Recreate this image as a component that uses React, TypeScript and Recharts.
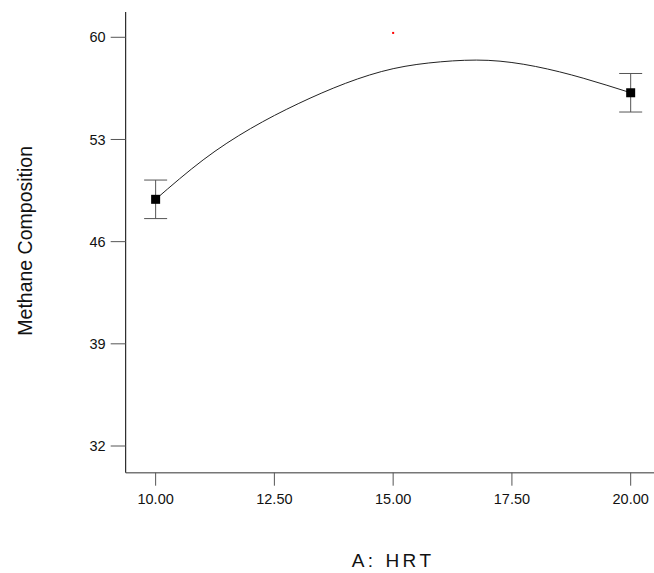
import { ComposedChart, ErrorBar, Label, Line, Scatter, XAxis, YAxis } from "recharts";

// A: HRT axis
const hrtTicks = [10, 12.5, 15, 17.5, 20];
// Methane Composition axis
const methaneTicks = [32, 39, 46, 53, 60];

// design points with error bars
const pointHrt = [10, 20];
const pointMethane = [48.9, 56.2];
const pointError = [1.32, 1.32];

// model curve
const curveHrt = [10, 11, 12, 13, 14, 15, 16, 17, 18, 19, 20];
const curveMethane = [48.9, 51.6, 53.75, 55.45, 56.85, 57.85, 58.32, 58.42, 58.0, 57.2, 56.2];

// small red center marker
const centerHrt = [15];
const centerMethane = [60.3];

const points = pointHrt.map((x, i) => ({ x, y: pointMethane[i], err: pointError[i] }));
const curve = curveHrt.map((x, i) => ({ x, y: curveMethane[i] }));
const center = centerHrt.map((x, i) => ({ x, y: centerMethane[i] }));

const font = "'Liberation Sans', Arial, sans-serif";
const tickStyle = { fill: "#111", fontSize: 14.5, fontFamily: font };

export default function App() {
  return (
    <div style={{ position: "fixed", left: 0, top: 0, width: 654, height: 573, overflow: "hidden", background: "#fff" }}>
      <ComposedChart width={700} height={573} margin={{ top: 12, right: 39.4, bottom: 0.3, left: 45.7 }}>
        <XAxis
          type="number"
          dataKey="x"
          domain={[9.37, 20.63]}
          ticks={hrtTicks}
          allowDataOverflow
          tickFormatter={(v) => Number(v).toFixed(2)}
          height={100}
          tickSize={13}
          tickMargin={7.6}
          tick={tickStyle}
          tickLine={{ stroke: "#555" }}
          axisLine={{ stroke: "#777", strokeWidth: 1.5 }}
        >
          <Label
            value="A: HRT"
            position="center"
            dy={37.3}
            style={{ fontSize: 19, letterSpacing: 3.5, fontFamily: font, fill: "#111" }}
          />
        </XAxis>
        <XAxis
          xAxisId="top"
          orientation="top"
          type="number"
          domain={[9.37, 20.63]}
          height={0}
          tick={false}
          tickLine={false}
          axisLine={{ stroke: "#444" }}
        />
        <YAxis
          type="number"
          dataKey="y"
          domain={[30.171, 61.733]}
          ticks={methaneTicks}
          allowDataOverflow
          width={80}
          tickSize={15}
          tickMargin={5}
          tick={tickStyle}
          tickLine={{ stroke: "#555" }}
          axisLine={{ stroke: "#000" }}
        >
          <Label
            value="Methane Composition"
            angle={-90}
            position="center"
            dx={-60.9}
            dy={-1.5}
            style={{ fontSize: 19.5, fontFamily: font, fill: "#111" }}
          />
        </YAxis>
        <Line
          data={curve}
          dataKey="y"
          type="natural"
          stroke="#222"
          strokeWidth={1}
          dot={false}
          activeDot={false}
          isAnimationActive={false}
        />
        <Scatter
          data={points}
          isAnimationActive={false}
          shape={(p: any) => <rect x={p.cx - 4.5} y={p.cy - 4.5} width={9} height={9} fill="#000" />}
        >
          <ErrorBar dataKey="err" direction="y" width={11.5} stroke="#555" strokeWidth={1} />
        </Scatter>
        <Scatter
          data={center}
          isAnimationActive={false}
          shape={(p: any) => <rect x={p.cx - 1} y={p.cy - 1} width={2} height={2} fill="#f00" />}
        />
      </ComposedChart>
    </div>
  );
}
